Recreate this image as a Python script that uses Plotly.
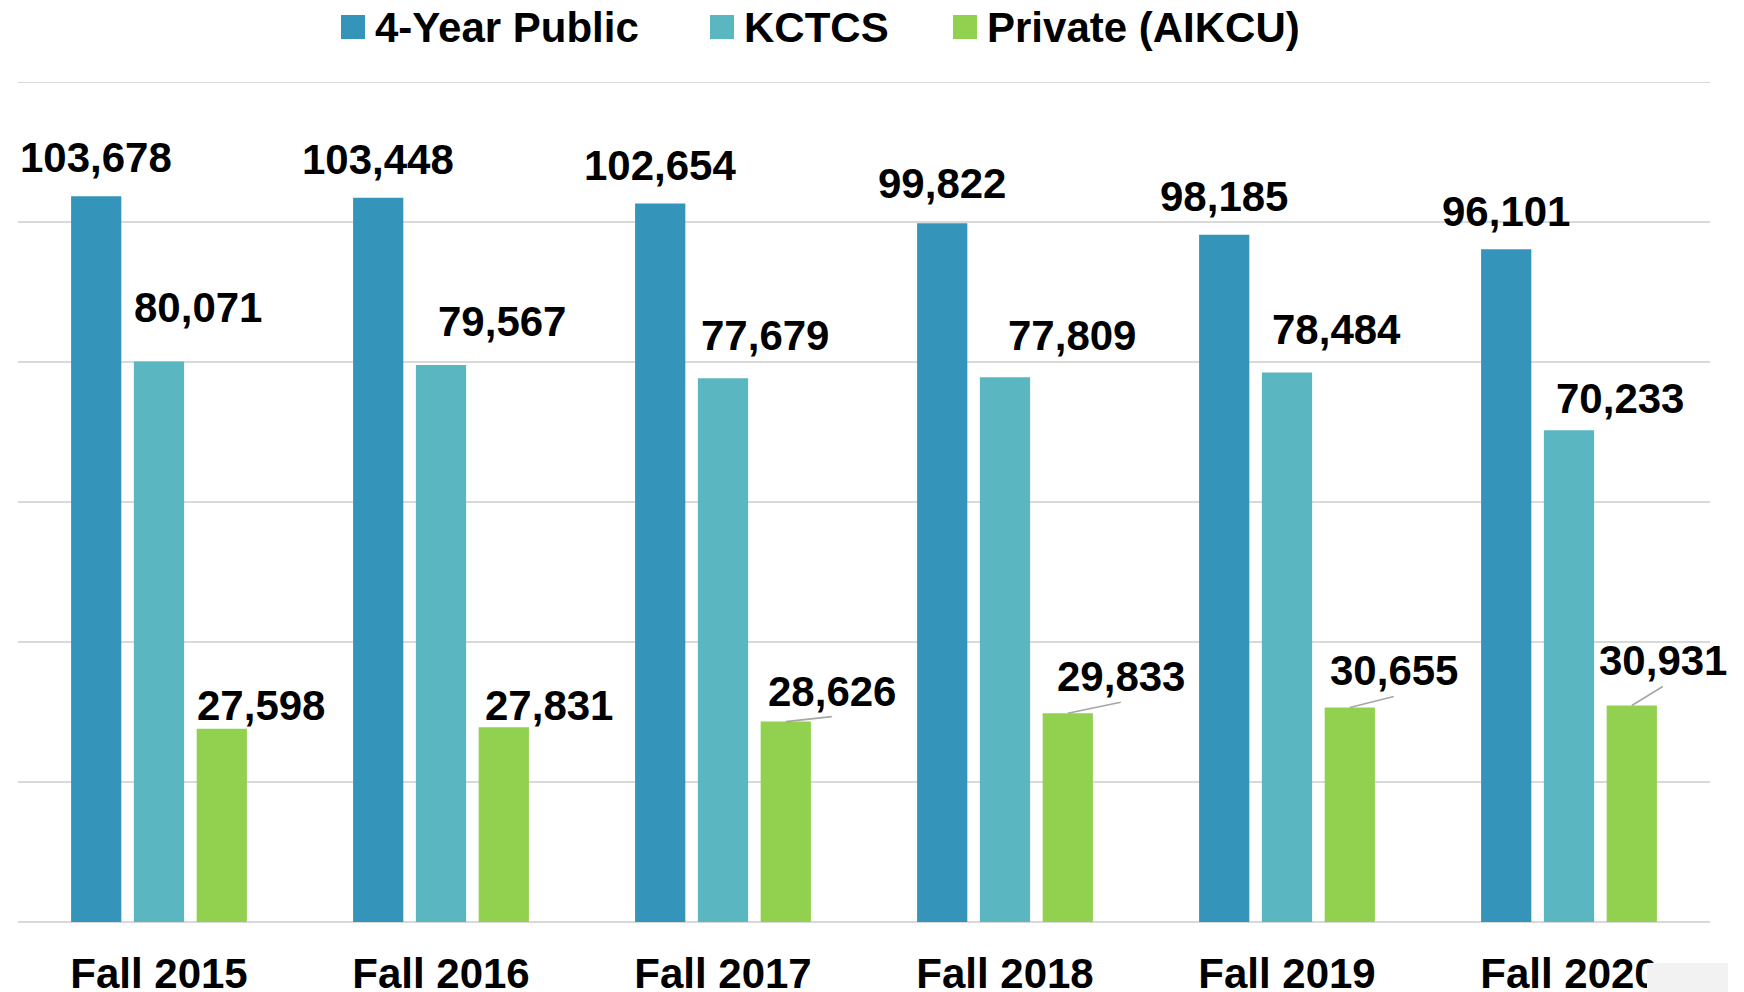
import plotly.graph_objects as go

categories = ["Fall 2015", "Fall 2016", "Fall 2017", "Fall 2018", "Fall 2019", "Fall 2020"]
public4 = [103678, 103448, 102654, 99822, 98185, 96101]
kctcs = [80071, 79567, 77679, 77809, 78484, 70233]
private = [27598, 27831, 28626, 29833, 30655, 30931]
series_names = ["4-Year Public", "KCTCS", "Private (AIKCU)"]
colors = ["#3494BA", "#5AB6C0", "#92D150"]

# label placement (pixel offsets from bar top-centre)
blue_dx = [0, 0, 0, 0, 0, 0]
blue_up = [39, 38, 38, 40, 38, 38]
teal_dx = [39, 61, 42, 67, 49, 51]
teal_up = [54, 44, 43, 42, 43, 32]
green_dx = [39, 45, 46, 53, 44, 31]
green_up = [23, 22, 5, 11, 11, 19]
green_leader = [False, False, True, True, True, True]

W, H = 1744, 992
ML, MR, MT, MB = 18, 34, 82, 70
BARGAP, GROUPGAP = 0.332, 0.2
plot_w = W - ML - MR
plot_h = H - MT - MB
slot = plot_w / len(categories) * (1 - BARGAP) / 3

FONT = "Liberation Sans, Arial, sans-serif"
YMAX = 120000

fig = go.Figure()
for name, vals, col in zip(series_names, [public4, kctcs, private], colors):
    fig.add_trace(go.Bar(x=categories, y=vals, name=name, marker_color=col,
                         marker_line_width=0, showlegend=False))

anns = []
def fmt(v):
    return f"{v:,}"

for i, c in enumerate(categories):
    anns.append(dict(x=c, y=public4[i], text=fmt(public4[i]), showarrow=False,
                     xshift=-slot + blue_dx[i], yshift=blue_up[i],
                     xanchor="center", yanchor="middle"))
    anns.append(dict(x=c, y=kctcs[i], text=fmt(kctcs[i]), showarrow=False,
                     xshift=teal_dx[i], yshift=teal_up[i],
                     xanchor="center", yanchor="middle"))
    if green_leader[i]:
        anns.append(dict(x=c, y=private[i], text=fmt(private[i]), showarrow=True,
                         arrowhead=0, arrowwidth=1.6, arrowcolor="#A6A6A6", standoff=0,
                         ax=green_dx[i], ay=-green_up[i], xshift=slot,
                         xanchor="center", yanchor="bottom"))
    else:
        anns.append(dict(x=c, y=private[i], text=fmt(private[i]), showarrow=False,
                         xshift=slot + green_dx[i], yshift=green_up[i],
                         xanchor="center", yanchor="middle"))

for a in anns:
    a["font"] = dict(family=FONT, size=42, color="black", weight="bold")

# manual legend (large square swatches)
def px_x(p):
    return (p - ML) / plot_w
def px_y(p):
    return (H - MB - p) / plot_h

legend_sq_x = [341, 710, 953]
legend_txt_x = [373, 742, 985]
shapes = []
for sx, tx, name, col in zip(legend_sq_x, legend_txt_x, series_names, colors):
    shapes.append(dict(type="rect", xref="paper", yref="paper",
                       x0=px_x(sx), x1=px_x(sx + 24), y0=px_y(39), y1=px_y(15),
                       fillcolor=col, line_width=0))
    anns.append(dict(xref="paper", yref="paper", x=px_x(tx), y=px_y(27),
                     text=name, showarrow=False, xanchor="left", yanchor="middle",
                     font=dict(family=FONT, size=42, color="black", weight="bold")))

# top gridline (plotly drops grid lines lying on the plot edge)
shapes.append(dict(type="line", xref="paper", yref="y", x0=0, x1=1, y0=YMAX, y1=YMAX,
                   line=dict(color="#D9D9D9", width=2), layer="below"))

# light grey box at bottom right corner
shapes.append(dict(type="rect", xref="paper", yref="paper", layer="above",
                   x0=px_x(1647), x1=px_x(1728), y0=px_y(992), y1=px_y(963),
                   fillcolor="#F2F2F2", line_width=0))

fig.update_layout(
    template="none",
    width=W, height=H,
    margin=dict(l=ML, r=MR, t=MT, b=MB, pad=0),
    plot_bgcolor="white", paper_bgcolor="white",
    barmode="group", bargap=BARGAP, bargroupgap=GROUPGAP,
    showlegend=False,
    annotations=anns, shapes=shapes,
    font=dict(family=FONT, color="black"),
)
fig.update_yaxes(range=[0, YMAX], autorange=False, dtick=20000, showticklabels=False,
                 showgrid=True, gridcolor="#D9D9D9", gridwidth=2,
                 zeroline=True, zerolinecolor="#D9D9D9", zerolinewidth=2,
                 showline=False, ticks="", automargin=False)
fig.update_xaxes(range=[-0.5, len(categories) - 0.5], autorange=False,
                 showline=False, ticks="", showgrid=False, automargin=False,
                 tickfont=dict(family=FONT, size=42, color="black", weight="bold"),
                 ticklabelstandoff=23)

fig.write_html("out.html", config={"displayModeBar": False},
               post_script="document.body.style.margin='0';")
